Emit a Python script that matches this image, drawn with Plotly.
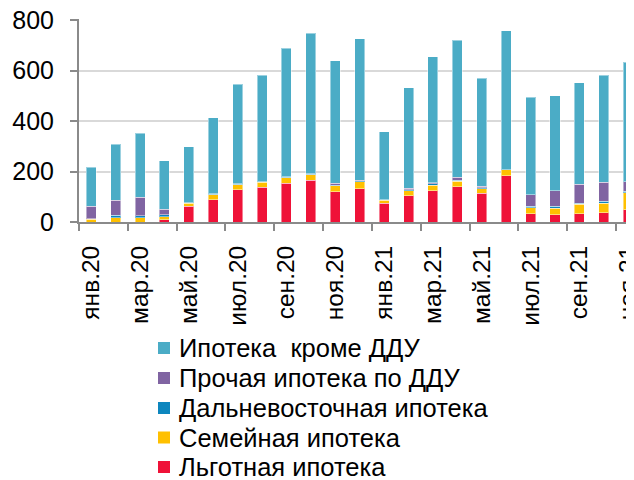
import plotly.graph_objects as go

months = ["янв.20", "фев.20", "мар.20", "апр.20", "май.20", "июн.20", "июл.20", "авг.20",
          "сен.20", "окт.20", "ноя.20", "дек.20", "янв.21", "фев.21", "мар.21", "апр.21",
          "май.21", "июн.21", "июл.21", "авг.21", "сен.21", "окт.21", "ноя.21"]

lgotnaya = [0, 0, 0, 8, 63, 88, 128, 137, 153, 165, 120, 132, 74, 103, 124, 139, 114, 183, 33, 28, 33, 37, 49]
semeinaya = [10, 16, 17, 13, 12, 19, 19, 21, 22, 22, 23, 28, 13, 20, 22, 23, 17, 23, 24, 27, 37, 38, 66]
dalnevost = [3, 10, 7, 7, 1, 3, 3, 1, 2, 2, 3, 3, 1, 4, 5, 4, 5, 0, 5, 7, 5, 7, 6]
prochaya = [50, 60, 74, 23, 1, 2, 2, 1, 2, 2, 7, 2, 1, 6, 5, 11, 5, 1, 45, 62, 74, 75, 38]
krome_ddu = [154, 221, 254, 192, 221, 301, 393, 422, 509, 557, 486, 560, 268, 399, 499, 542, 429, 551, 388, 376, 403, 424, 474]
y_ticks = [0, 200, 400, 600, 800]

series = [
    ("Льготная ипотека", lgotnaya, "#EF1238"),
    ("Семейная ипотека", semeinaya, "#FFC000"),
    ("Дальневосточная ипотека", dalnevost, "#0D86BE"),
    ("Прочая ипотека по ДДУ", prochaya, "#8064A2"),
    ("Ипотека\u00a0 кроме ДДУ", krome_ddu, "#4BACC6"),
]

FONT = "Liberation Sans, Arial, sans-serif"
AX = "#8A8A8A"
OFF = 8  # page body margin offset
W, H = 634, 480
ML, MT = 79 - OFF, 19 - OFF
PLOT_BOTTOM = 222 - OFF
MB = H - PLOT_BOTTOM
MR = 0
PW, PH = W - ML - MR, PLOT_BOTTOM - MT
CAT_W = 24.41
X_MAX = -0.5 + PW / CAT_W
Y_MAX = 800 * PH / (PH - 1)


def px_x(p):
    return (p - OFF - ML) / PW


def px_y(p):
    return (PLOT_BOTTOM - (p - OFF)) / PH


fig = go.Figure()
for name, vals, col in series:
    fig.add_trace(go.Bar(
        x=months, y=vals, name=name,
        marker=dict(color=col, line=dict(color="rgba(255,255,255,0.45)", width=1)),
    ))

# legend drawn as swatches + text (top entry = top of stack)
legend_rows = [348, 378, 408, 437.5, 467]
for (name, vals, col), cy in zip(reversed(series), legend_rows):
    fig.add_shape(type="rect", xref="paper", yref="paper",
                  x0=px_x(158), x1=px_x(170), y0=px_y(cy + 6), y1=px_y(cy - 6),
                  fillcolor=col, line=dict(width=0))
    fig.add_annotation(xref="paper", yref="paper", x=px_x(177), y=px_y(cy),
                       xanchor="left", yanchor="middle", showarrow=False,
                       text=name, font=dict(family=FONT, size=25.5, color="#000000"))

fig.update_layout(
    template="none",
    width=W, height=H,
    margin=dict(l=ML, r=MR, t=MT, b=MB, pad=0),
    barmode="stack", bargap=0.59,
    plot_bgcolor="white", paper_bgcolor="white",
    font=dict(family=FONT, size=24, color="#000000"),
    showlegend=False,
)

fig.update_xaxes(
    type="category", range=[-0.5, X_MAX], automargin=False,
    tickmode="linear", tick0=0, dtick=2,
    tickson="boundaries", ticks="outside", ticklen=7, tickwidth=2, tickcolor=AX,
    showline=True, linecolor=AX, linewidth=2,
    tickangle=-90, ticklabelstandoff=12,
    tickfont=dict(family=FONT, size=24.5, color="#000000"),
    showgrid=False, zeroline=False,
)

fig.update_yaxes(
    range=[0, Y_MAX], tickvals=y_ticks, automargin=False,
    ticks="outside", ticklen=7, tickwidth=2, tickcolor=AX,
    showline=True, linecolor=AX, linewidth=2,
    showgrid=True, gridcolor="#D9D9D9", gridwidth=2,
    zeroline=False, ticklabelstandoff=11, ticklabeloverflow="allow",
    tickfont=dict(family=FONT, size=25, color="#000000"),
)

fig.write_html("out.html")
